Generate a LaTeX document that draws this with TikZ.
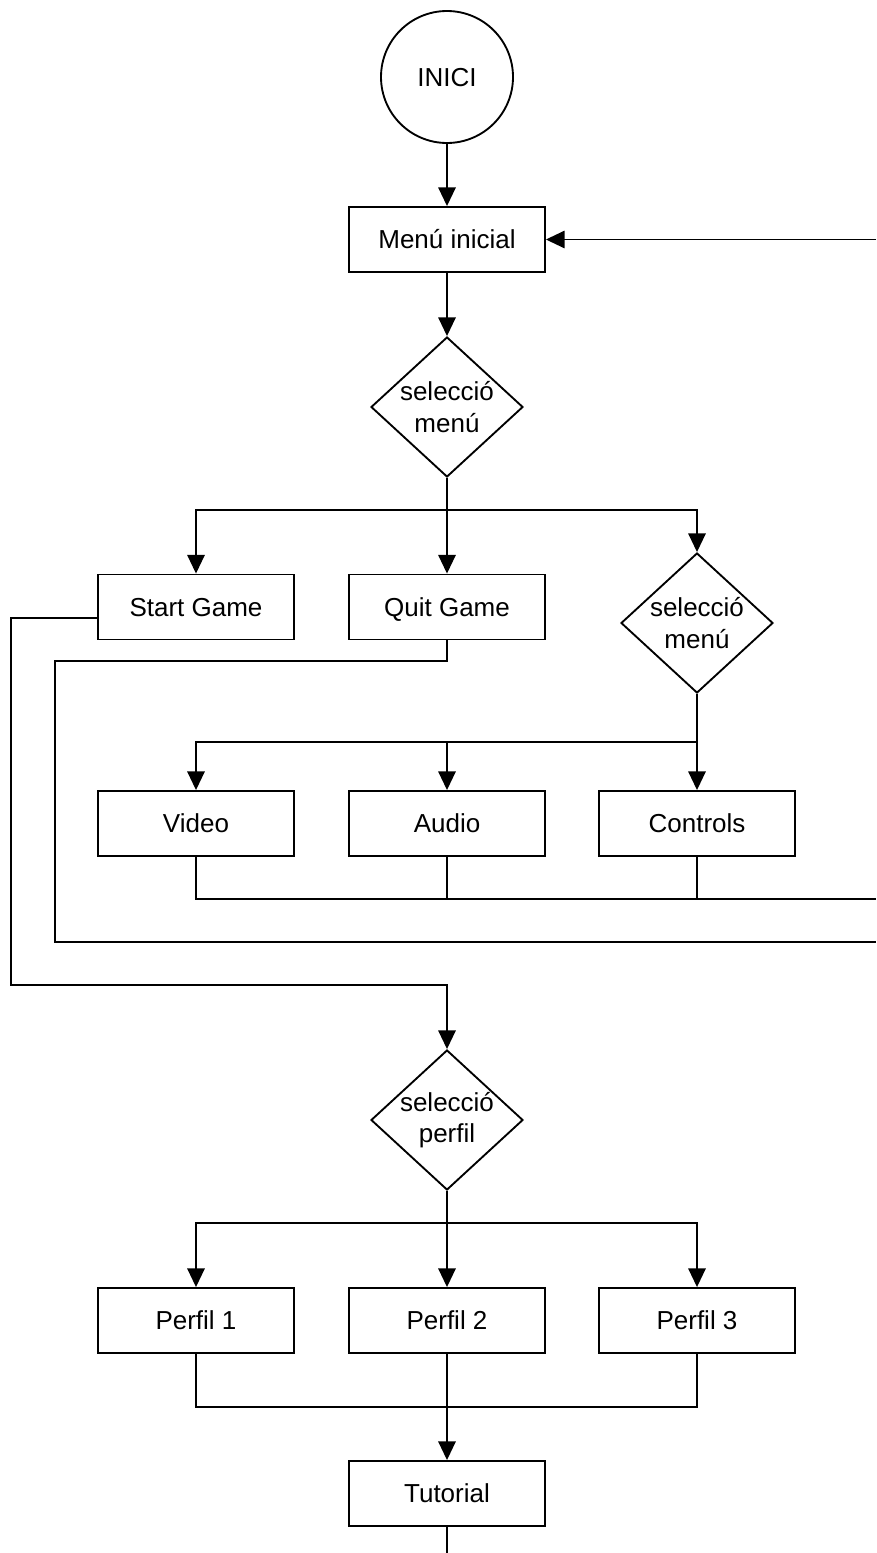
\documentclass[tikz,border=0pt]{standalone}
\usepackage{fontspec}
\setmainfont{Liberation Sans}
\usetikzlibrary{shapes.geometric,arrows.meta}
\begin{document}
\begin{tikzpicture}[x=0.75pt,y=-0.75pt,
  line width=1.4pt,
  every node/.style={font=\fontsize{19.5}{23.4}\selectfont},
  box/.style={draw,rectangle,minimum width=147pt,minimum height=48.75pt,inner sep=0pt,
    text height=14pt,text depth=0pt},
  dia/.style={draw,diamond,minimum width=114pt,minimum height=105pt,inner sep=0pt},
  lbl/.style={align=center,inner sep=0pt},
  arr/.style={-{Triangle[width=13pt,length=14pt]}}]
\useasboundingbox[fill=white] (0,0) rectangle (876,1553);

% start and main menu
\node[draw,circle,minimum size=99pt,inner sep=0pt,text height=14pt,text depth=0pt] (inici) at (447,77) {INICI};
\node[box] (menu) at (447,239.5) {Menú inicial};
\node[dia] (d1) at (447,407) {};
\node[lbl] (d1t) at (d1) {selecció\\menú};

% first level options
\node[box] (start) at (196,607) {Start Game};
\node[box] (quit) at (447,607) {Quit Game};
\node[dia] (d2) at (697,623) {};
\node[lbl] (d2t) at (d2) {selecció\\menú};

% settings
\node[box] (video) at (196,823.5) {Video};
\node[box] (audio) at (447,823.5) {Audio};
\node[box] (controls) at (697,823.5) {Controls};

% profile selection
\node[dia] (d3) at (447,1120) {};
\node[lbl] (d3t) at (d3) {selecció\\perfil};
\node[box] (p1) at (196,1320.5) {Perfil 1};
\node[box] (p2) at (447,1320.5) {Perfil 2};
\node[box] (p3) at (697,1320.5) {Perfil 3};
\node[box] (tut) at (447,1493.5) {Tutorial};

% junction points and free ends
\coordinate (j1) at (447,510);
\coordinate (j2) at (697,742);
\coordinate (j3) at (447,1223);
\coordinate (j4) at (447,1407);
\coordinate (r0) at (876,239.5);
\coordinate (r1) at (876,899);
\coordinate (q1) at (55,661);
\coordinate (q2) at (876,942);
\coordinate (s1) at (11,985);
\coordinate (e1) at (447,1553);

% connectors
\draw[arr] (inici) -- (menu);
\draw[arr] (menu) -- (d1);
\draw (d1.south) -- (j1);
\draw[arr] (j1) -| (start);
\draw[arr] (j1) -- (quit);
\draw[arr] (j1) -| (d2);

\draw (d2.south) -- (j2);
\draw[arr] (j2) -| (video);
\draw[arr] (j2) -| (audio);
\draw[arr] (j2) -- (controls);

\draw (video.south) |- (r1);
\draw (audio.south) -- (audio.south |- r1);
\draw (controls.south) -- (controls.south |- r1);
\draw[arr] (r0) -- (menu.east);

\draw (quit.south) |- (q1) -- (q1 |- q2) -- (q2);
\draw[arr] ([yshift=-8.25pt]start.west) -| (s1) -| (d3);

\draw (d3.south) -- (j3);
\draw[arr] (j3) -| (p1);
\draw[arr] (j3) -- (p2);
\draw[arr] (j3) -| (p3);

\draw (p1.south) |- (j4);
\draw (p3.south) |- (j4);
\draw[arr] (p2) -- (tut);
\draw (tut) -- (e1);
\end{tikzpicture}
\end{document}
